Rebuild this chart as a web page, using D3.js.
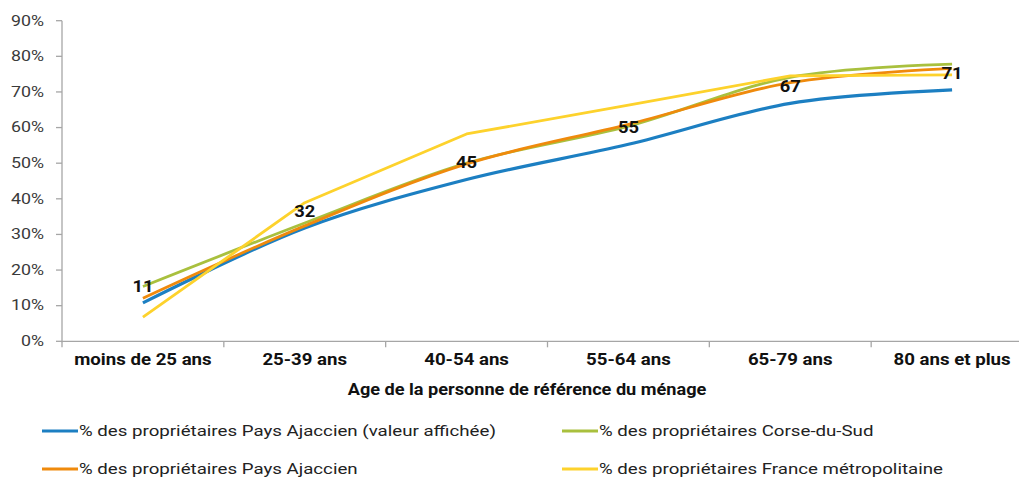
<!DOCTYPE html>
<html><head><meta charset="utf-8">
<script src="https://cdn.jsdelivr.net/npm/d3@7"></script>
<style>
html,body{margin:0;padding:0;background:#fff;}
svg{display:block;}
text{font-family:Roboto,"Liberation Sans",Arial,sans-serif;}
</style></head>
<body>
<svg id="chart" width="1019" height="477"></svg>
<script>
const categories = ["moins de 25 ans","25-39 ans","40-54 ans","55-64 ans","65-79 ans","80 ans et plus"];
const yTicks = [0,10,20,30,40,50,60,70,80,90];
const paysAjaccienAffiche = [10.8, 31.8, 45.4, 55.3, 66.8, 70.6];
const corseDuSud = [15.4, 33.2, 50.0, 60.4, 74.1, 77.8];
const paysAjaccien = [12.1, 32.4, 49.8, 60.9, 72.6, 76.6];
const franceMetro = [6.8, 38.9, 58.2, 66.3, 74.5, 74.8];
const seriesNames = [
  "% des propriétaires Pays Ajaccien (valeur affichée)",
  "% des propriétaires Corse-du-Sud",
  "% des propriétaires Pays Ajaccien",
  "% des propriétaires France métropolitaine"
];
const xTitle = "Age de la personne de référence du ménage";

(function(){
const colors = ["#1c7fc2","#a9c03e","#ef8a0c","#fdd22c"];
const smooth = [true,true,true,false];
const seriesValues = [paysAjaccienAffiche, corseDuSud, paysAjaccien, franceMetro];

const svg = d3.select("#chart");
const mLeft = 62, mRight = 1033, mTop = 20.7, mBottom = 341.3;
const SX = 1.27, SXL = 1.335, SXB = 1.13, SXT = 1.1;

const x = d3.scaleBand().domain(categories).range([mLeft, mRight]);
const y = d3.scaleLinear().domain([0, 90]).range([mBottom, mTop]);
const cx = c => x(c) + x.bandwidth()/2;

function stext(g, tx, ty, str, opts) {
  const gg = g.append("g").attr("transform", `translate(${tx},${ty}) scale(${opts.sx},1)`);
  return gg.append("text").attr("x",0).attr("y",0)
    .attr("text-anchor", opts.anchor || "middle")
    .attr("dominant-baseline","central")
    .attr("font-size", opts.size)
    .attr("font-weight", opts.weight || "normal")
    .attr("fill", opts.fill || "#000")
    .text(str);
}

const axisColor = "#a6a6a6";
const ya = svg.append("g");
ya.append("line").attr("x1",mLeft).attr("x2",mLeft).attr("y1",y(90)).attr("y2",mBottom+1)
  .attr("stroke",axisColor).attr("stroke-width",1.3);
yTicks.forEach(t => {
  ya.append("line").attr("x1",mLeft-6).attr("x2",mLeft).attr("y1",y(t)).attr("y2",y(t))
    .attr("stroke",axisColor).attr("stroke-width",1.3);
  stext(ya, 44, y(t), t + "%", {sx:SX, size:14, anchor:"end", fill:"#3a3a3a"});
});
const xa = svg.append("g");
xa.append("line").attr("x1",mLeft).attr("x2",mRight).attr("y1",mBottom).attr("y2",mBottom)
  .attr("stroke",axisColor).attr("stroke-width",1.3);
categories.forEach((c,i) => {
  xa.append("line").attr("x1",x(c)).attr("x2",x(c)).attr("y1",mBottom).attr("y2",mBottom+6)
    .attr("stroke",axisColor).attr("stroke-width",1.3);
  stext(xa, cx(c), 359, c, {sx:SXB, size:16.5, weight:"bold", fill:"#111"});
});
stext(svg, 527, 389, xTitle, {sx:SXT, size:16.5, weight:"bold", fill:"#111"});

seriesValues.forEach((vals,i) => {
  const line = d3.line()
    .x((d,j) => cx(categories[j]))
    .y(d => y(d))
    .curve(smooth[i] ? d3.curveCatmullRom.alpha(0.5) : d3.curveLinear);
  svg.append("path").datum(vals).attr("d", line)
    .attr("fill","none").attr("stroke",colors[i])
    .attr("stroke-width", i===0 ? 3.2 : 2.8)
    .attr("stroke-linejoin","round").attr("stroke-linecap","butt");
});

paysAjaccienAffiche.forEach((v,j) => {
  stext(svg, cx(categories[j]), y(v) - 17, d3.format(".0f")(v), {sx:1.08, size:17, weight:"bold", fill:"#111"});
});

const legendPos = [[42,431],[562,431],[42,469],[562,469]];
seriesNames.forEach((n,i) => {
  const [lx,ly] = legendPos[i];
  svg.append("line").attr("x1",lx).attr("x2",lx+36).attr("y1",ly).attr("y2",ly)
    .attr("stroke",colors[i]).attr("stroke-width",3.2);
  stext(svg, lx+37, ly, n, {sx:SXL, size:14, anchor:"start", fill:"#222"});
});
})();
</script>
</body></html>
